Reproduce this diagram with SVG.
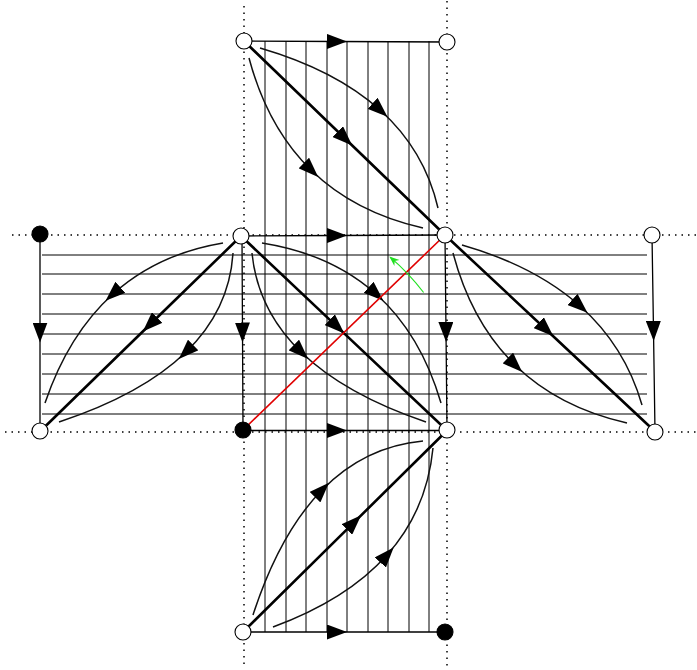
<svg xmlns="http://www.w3.org/2000/svg" width="697" height="670" viewBox="0 0 697 670">
<style>
.dot{stroke:#000;stroke-width:1.5;stroke-dasharray:1.5 5;fill:none}
.hatch{stroke:#000;stroke-width:1;fill:none}
.edge{stroke:#000;stroke-width:1.3;fill:none;marker-mid:url(#ar)}
.diag{stroke:#000;stroke-width:2.6;fill:none;marker-mid:url(#ar)}
.arc{stroke:#111;stroke-width:1.5;fill:none;marker-mid:url(#ar)}
.open{fill:#fff;stroke:#000;stroke-width:1.1}
.full{fill:#000;stroke:#000;stroke-width:1.1}
</style>
<defs>
<marker id="ar" markerWidth="20" markerHeight="15" refX="10" refY="7.5" orient="auto" markerUnits="userSpaceOnUse"><path d="M0,0 L20,7.5 L0,15 z" fill="#000"/></marker>
<marker id="gar" markerWidth="12" markerHeight="10" refX="9" refY="5" orient="auto" markerUnits="userSpaceOnUse"><path d="M0,1 L10,5 L0,9 L3,5 z" fill="#22e022"/></marker>
</defs>
<rect width="697" height="670" fill="#fff"/>
<g id="guides">
<line class="dot" x1="244" y1="6" x2="244" y2="664"/>
<line class="dot" x1="447" y1="1" x2="447" y2="668"/>
<line class="dot" x1="12" y1="235" x2="697" y2="235"/>
<line class="dot" x1="5" y1="432" x2="697" y2="432"/>
</g>
<g id="hatching">
<line class="hatch" x1="265" y1="41" x2="265" y2="632"/>
<line class="hatch" x1="286" y1="41" x2="286" y2="632"/>
<line class="hatch" x1="306" y1="41" x2="306" y2="632"/>
<line class="hatch" x1="327" y1="41" x2="327" y2="632"/>
<line class="hatch" x1="347" y1="41" x2="347" y2="632"/>
<line class="hatch" x1="368" y1="41" x2="368" y2="632"/>
<line class="hatch" x1="388" y1="41" x2="388" y2="632"/>
<line class="hatch" x1="409" y1="41" x2="409" y2="632"/>
<line class="hatch" x1="429" y1="41" x2="429" y2="632"/>
<line class="hatch" x1="42" y1="255" x2="647" y2="255"/>
<line class="hatch" x1="42" y1="274" x2="647" y2="274"/>
<line class="hatch" x1="42" y1="294" x2="647" y2="294"/>
<line class="hatch" x1="42" y1="314" x2="647" y2="314"/>
<line class="hatch" x1="42" y1="334" x2="647" y2="334"/>
<line class="hatch" x1="42" y1="354" x2="647" y2="354"/>
<line class="hatch" x1="42" y1="374" x2="647" y2="374"/>
<line class="hatch" x1="42" y1="394" x2="647" y2="394"/>
<line class="hatch" x1="42" y1="414" x2="647" y2="414"/>
</g>
<g id="connectors">
<path class="edge" d="M244,41 L337,41.5 L447,42"/>
<path class="edge" d="M241,236 L337,235.5 L445,235"/>
<path class="edge" d="M243,430.5 L337,430.5 L447,430.5"/>
<path class="edge" d="M243,632 L337,632 L445,632"/>
<path class="edge" d="M40,234 L40,332.5 L40,431"/>
<path class="edge" d="M242,236 L242.5,332.5 L243,430"/>
<path class="edge" d="M445,235 L446,332 L447,430"/>
<path class="edge" d="M652,235 L653.5,331 L655,432"/>
<path class="diag" d="M244,41 L345,138.5 L445,235"/>
<path class="diag" d="M241,236 L150,324.5 L40,431.5"/>
<path class="diag" d="M241,236 L337,326.6 L447,430.5"/>
<path class="diag" d="M445,235 L546,329.5 L655,431.5"/>
<path class="diag" d="M243,632 L354,522.4 L447,430.5"/>
<path class="arc" d="M260,48 Q335.5,70 380,110 Q424.5,150 438,208"/>
<path class="arc" d="M249,58 Q267.5,127.5 311,170 Q354.5,212.5 423,228"/>
<path class="arc" d="M223,243 Q157.5,254 113,294 Q68.5,334 45,403"/>
<path class="arc" d="M233,253 Q229.5,309.75 186,352 Q142.5,394.25 59,422"/>
<path class="arc" d="M462,245 Q535,266 580,306 Q625,346 642,405"/>
<path class="arc" d="M453,253 Q471.5,322.5 515,365 Q558.5,407.5 627,423"/>
<path class="arc" d="M262,243 Q331.25,254 376,294 Q420.75,334 441,403"/>
<path class="arc" d="M252,253 Q257.5,309.75 301,352 Q344.5,394.25 426,422"/>
<path class="arc" d="M253,615 Q279.5,533.5 322,490 Q364.5,446.5 423,441"/>
<path class="arc" d="M273,627 Q347,599.75 387,555 Q427,510.25 433,448"/>
<line x1="243" y1="430" x2="445" y2="235" stroke="#e00000" stroke-width="1.6"/>
<path d="M423.6,292.5 A227,227 0 0 0 390.1,257.1" fill="none" stroke="#22e022" stroke-width="1.2" marker-end="url(#gar)"/>
</g>
<g id="nA"><circle class="open" cx="244" cy="41" r="8"/></g>
<g id="nB"><circle class="open" cx="447" cy="42" r="8"/></g>
<g id="nC"><circle class="full" cx="40" cy="234" r="8"/></g>
<g id="nD"><circle class="open" cx="241" cy="236" r="8"/></g>
<g id="nE"><circle class="open" cx="445" cy="235" r="8"/></g>
<g id="nF"><circle class="open" cx="652" cy="235" r="8"/></g>
<g id="nG"><circle class="open" cx="40" cy="431" r="8"/></g>
<g id="nH"><circle class="full" cx="243" cy="430" r="8"/></g>
<g id="nI"><circle class="open" cx="447" cy="430" r="8"/></g>
<g id="nJ"><circle class="open" cx="655" cy="432" r="8"/></g>
<g id="nK"><circle class="open" cx="243" cy="632" r="8"/></g>
<g id="nL"><circle class="full" cx="445" cy="632" r="8"/></g>
</svg>
